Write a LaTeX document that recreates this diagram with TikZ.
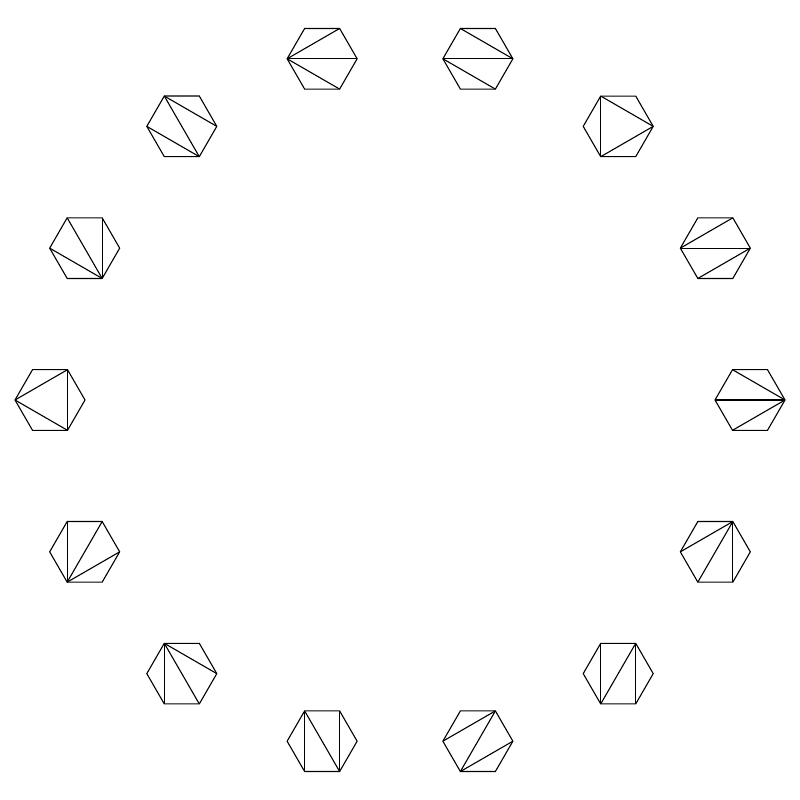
\documentclass[tikz,border=0pt]{standalone}
\begin{document}
\begin{tikzpicture}[x=1pt,y=1pt,line width=1.1pt,line join=miter,
  hexedge/.style={draw=black},
  diag/.style={draw=black}]
\useasboundingbox (0,0) rectangle (800,800);
\foreach \k/\diags in {
  0/{3/1,3/0,3/5},
  1/{2/0,3/0,3/5},
  2/{2/4,2/0,4/0},
  3/{3/1,3/0,4/0},
  4/{0/2,0/3,0/4},
  5/{1/3,1/4,1/5},
  6/{2/4,1/4,1/5},
  7/{3/1,4/1,4/0},
  8/{2/4,2/5,1/5},
  9/{2/4,2/5,2/0},
  10/{4/2,4/1,4/0},
  11/{3/1,1/5,3/5},
  12/{5/3,5/2,5/1},
  13/{2/0,2/5,3/5}} {
  \pgfmathsetmacro\ang{102.857-25.7143*\k}
  \coordinate (c\k) at ({400+350*cos(\ang)},{400+350*sin(\ang)});
  \foreach \i in {0,...,5}
    \coordinate (h\k v\i) at ([shift={(\i*60:35)}] c\k);
  \draw[hexedge] (h\k v0) -- (h\k v1) -- (h\k v2) -- (h\k v3) -- (h\k v4) -- (h\k v5) -- cycle;
  \foreach \a/\b in \diags
    \draw[diag] (h\k v\a) -- (h\k v\b);
}
\end{tikzpicture}
\end{document}
